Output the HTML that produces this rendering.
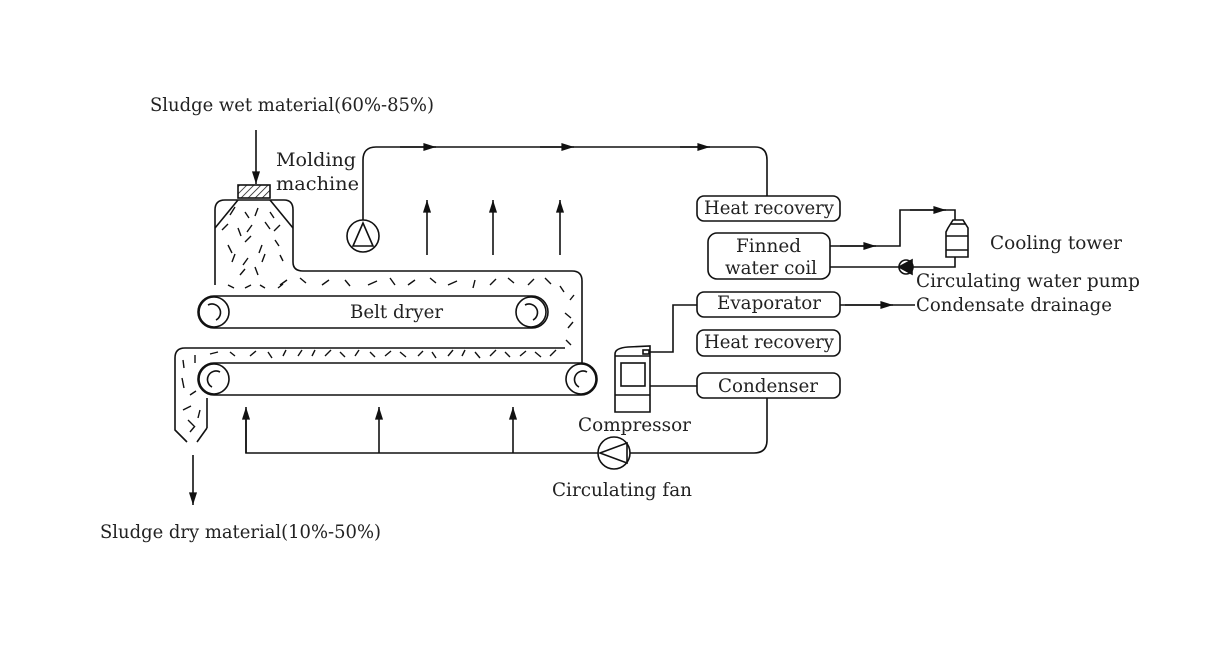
<!DOCTYPE html>
<html><head><meta charset="utf-8"><style>
html,body{margin:0;padding:0;background:#fff;}
svg{display:block;}
text{font-family:"DejaVu Serif","Liberation Serif",serif;font-size:19px;fill:#222;}
</style></head><body>
<svg width="1221" height="648" viewBox="0 0 1221 648" xmlns="http://www.w3.org/2000/svg">
<defs>
<marker id="ah" viewBox="0 0 14 10" refX="14" refY="5" markerWidth="16" markerHeight="9" orient="auto" markerUnits="userSpaceOnUse"><path d="M0,0.5 L14,5 L0,9.5 z" fill="#111"/></marker>
<pattern id="hatch" width="5" height="5" patternUnits="userSpaceOnUse" patternTransform="rotate(45)"><line x1="0" y1="0" x2="0" y2="5" stroke="#111" stroke-width="1.5"/></pattern>
</defs>
<g fill="none" stroke="#111" stroke-width="1.6">
<line x1="256" y1="130" x2="256" y2="184" marker-end="url(#ah)"/>
<rect x="238" y="185" width="32" height="13" fill="url(#hatch)"/>
<path d="M215,285 V210 Q215,200 225,200 H284 Q293,200 293,210 V262 Q293,271 303,271 H572 Q582,271 582,281 V363"/>
<line x1="215" y1="228" x2="238" y2="200"/>
<line x1="293" y1="228" x2="270" y2="200"/>
<rect x="198" y="296" width="350" height="32" rx="16"/>
<circle cx="214" cy="312" r="15"/><circle cx="531" cy="312" r="15"/>
<path d="M208,305 A8,8 0 1 1 216,320"/><path d="M525,305 A8,8 0 1 1 533,320"/>
<path d="M565,348 H185 Q175,348 175,358 V430 L187,442"/>
<line x1="207" y1="398" x2="207" y2="428"/><line x1="207" y1="428" x2="197" y2="442"/>
<rect x="198" y="363" width="399" height="32" rx="16"/>
<circle cx="214" cy="379" r="15"/><circle cx="581" cy="379" r="15"/>
<path d="M220,372 A8,8 0 1 0 212,387"/><path d="M587,372 A8,8 0 1 0 579,387"/>
<line x1="193" y1="455" x2="193" y2="505" marker-end="url(#ah)"/>
<g stroke-width="1.4">
<path d="M230,215l5,-8 M245,212l4,6 M258,208l-3,8 M270,212l4,6 M222,230l6,-6 M238,228l3,8 M252,225l-5,7 M265,222l5,7 M280,225l-6,6 M228,245l4,8 M245,242l6,-6 M262,245l-3,8 M275,240l4,6 M232,262l3,-8 M248,258l-5,7 M262,262l3,-8 M280,255l3,6 M240,275l5,-6 M258,275l-3,-8 M228,285l6,3 M245,288l6,-3 M260,285l5,3 M278,288l5,-4"/>
<path d="M280,285l7,-5 M300,278l6,5 M322,285l7,-5 M345,280l5,6 M368,285l9,-4 M390,278l5,7 M408,285l7,-5 M430,278l6,5 M448,285l9,-4 M475,280l-2,8 M490,285l6,-6 M508,278l6,5 M528,285l6,-6 M545,278l6,6 M560,286l4,6 M570,300l4,-5 M565,313l6,5 M568,328l5,-6 M566,340l5,5"/>
<path d="M210,354l8,-2 M230,352l5,4 M250,356l6,-5 M268,352l4,6 M283,356l3,-6 M298,356l4,-6 M312,356l3,-6 M325,356l6,-6 M340,352l5,5 M355,356l4,-6 M370,352l5,5 M385,356l6,-5 M400,352l6,5 M418,356l5,-5 M432,352l4,6 M448,356l5,-6 M462,356l3,-6 M475,352l5,6 M490,356l6,-6 M505,352l5,5 M520,356l6,-5 M535,352l6,5 M550,356l6,-6"/>
<path d="M183,360l1,8 M195,355l0,8 M182,378l2,10 M190,395l6,-4 M183,410l8,-4 M188,420l6,6 M190,432l5,-6 M200,410l-2,8"/>
</g>
<circle cx="363" cy="236" r="16"/>
<path d="M363,223 L353,246 H373 Z"/>
<path d="M363,220 V160 Q363,147 376,147 H755 Q767,147 767,160 V196"/>
<line x1="400" y1="147" x2="436" y2="147" marker-end="url(#ah)"/>
<line x1="540" y1="147" x2="574" y2="147" marker-end="url(#ah)"/>
<line x1="680" y1="147" x2="710" y2="147" marker-end="url(#ah)"/>
<line x1="427" y1="255" x2="427" y2="200" marker-end="url(#ah)"/>
<line x1="493" y1="255" x2="493" y2="200" marker-end="url(#ah)"/>
<line x1="560" y1="255" x2="560" y2="200" marker-end="url(#ah)"/>
<rect x="697" y="196" width="143" height="25" rx="7"/>
<rect x="708" y="233" width="122" height="46" rx="9"/>
<rect x="697" y="292" width="143" height="25" rx="7"/>
<rect x="697" y="330" width="143" height="26" rx="7"/>
<rect x="697" y="373" width="143" height="25" rx="7"/>
<path d="M830,246 H900 V210 H955 V220"/>
<line x1="840" y1="246" x2="876" y2="246" marker-end="url(#ah)"/>
<line x1="910" y1="210" x2="946" y2="210" marker-end="url(#ah)"/>
<path d="M830,267 H955 V257"/>
<circle cx="906" cy="267" r="7" fill="#fff"/>
<path d="M899,267 L912,260 V274 Z" fill="#111"/>
<path d="M948,228 L953,220 H963 L968,228 V257 H946 V232 Z" fill="#fff"/>
<line x1="946" y1="236" x2="968" y2="236"/>
<line x1="946" y1="250" x2="968" y2="250"/>
<line x1="951" y1="224" x2="965" y2="224"/>
<line x1="840" y1="305" x2="915" y2="305"/>
<line x1="845" y1="305" x2="893" y2="305" marker-end="url(#ah)"/>
<path d="M697,305 H673 V352 H645"/>
<path d="M615,412 V354 Q615,348 628,347 L650,346 V412 Z" fill="#fff"/>
<line x1="615" y1="356" x2="650" y2="356"/>
<rect x="621" y="363" width="24" height="23"/>
<line x1="615" y1="395" x2="650" y2="395"/>
<rect x="643" y="350" width="6" height="4"/>
<path d="M650,386 H697"/>
<path d="M767,398 V440 Q767,453 754,453 H630"/>
<circle cx="614" cy="453" r="16"/>
<path d="M600,453 L627,443 V463 Z"/>
<path d="M598,453 H246 V410"/>
<line x1="246" y1="453" x2="246" y2="407" marker-end="url(#ah)"/>
<line x1="379" y1="453" x2="379" y2="407" marker-end="url(#ah)"/>
<line x1="513" y1="453" x2="513" y2="407" marker-end="url(#ah)"/>
</g>
<g>
<text x="150" y="111" textLength="284" lengthAdjust="spacingAndGlyphs">Sludge wet material(60%-85%)</text>
<text x="276" y="166" textLength="80" lengthAdjust="spacingAndGlyphs">Molding</text>
<text x="276" y="190" textLength="83" lengthAdjust="spacingAndGlyphs">machine</text>
<text x="350" y="318" textLength="93" lengthAdjust="spacingAndGlyphs">Belt dryer</text>
<text x="100" y="538" textLength="281" lengthAdjust="spacingAndGlyphs">Sludge dry material(10%-50%)</text>
<text x="704" y="214" textLength="130" lengthAdjust="spacingAndGlyphs">Heat recovery</text>
<text x="736" y="252" textLength="65" lengthAdjust="spacingAndGlyphs">Finned</text>
<text x="725" y="274" textLength="92" lengthAdjust="spacingAndGlyphs">water coil</text>
<text x="990" y="249" textLength="132" lengthAdjust="spacingAndGlyphs">Cooling tower</text>
<text x="916" y="287" textLength="224" lengthAdjust="spacingAndGlyphs">Circulating water pump</text>
<text x="916" y="311" textLength="196" lengthAdjust="spacingAndGlyphs">Condensate drainage</text>
<text x="717" y="309" textLength="104" lengthAdjust="spacingAndGlyphs">Evaporator</text>
<text x="704" y="348" textLength="130" lengthAdjust="spacingAndGlyphs">Heat recovery</text>
<text x="718" y="392" textLength="100" lengthAdjust="spacingAndGlyphs">Condenser</text>
<text x="578" y="431" textLength="113" lengthAdjust="spacingAndGlyphs">Compressor</text>
<text x="552" y="496" textLength="140" lengthAdjust="spacingAndGlyphs">Circulating fan</text>
</g>
</svg>
</body></html>
